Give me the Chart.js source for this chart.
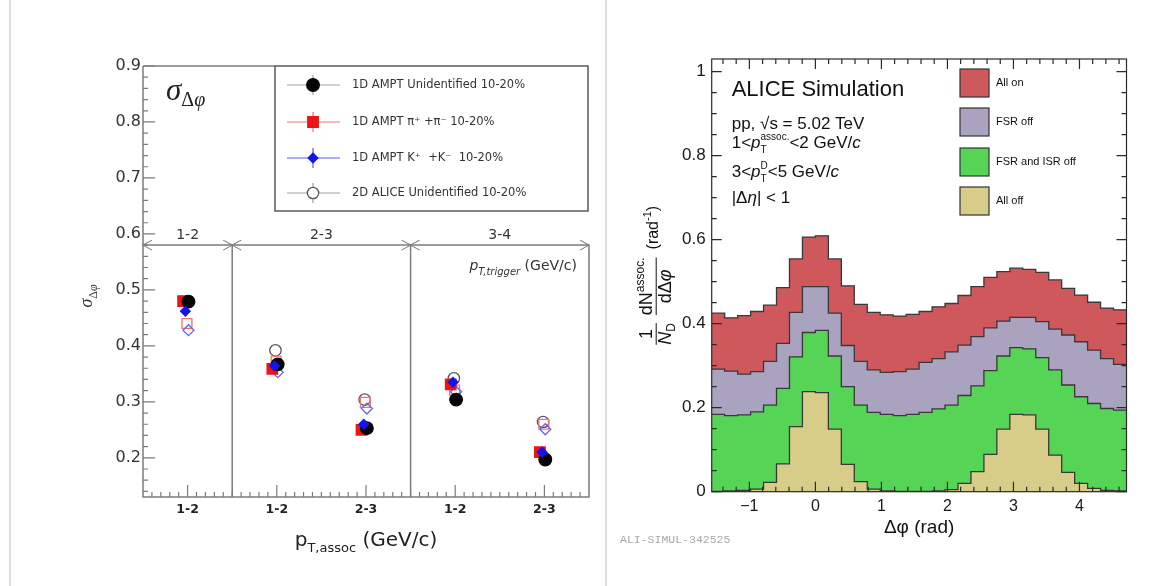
<!DOCTYPE html>
<html>
<head>
<meta charset="utf-8">
<title>Near-side width and D-hadron correlations</title>
<script src="https://cdn.jsdelivr.net/npm/chart.js@4.4.1/dist/chart.umd.min.js"></script>
<style>
  html, body { margin: 0; padding: 0; background: #fff; }
  #page { position: relative; width: 1173px; height: 586px; overflow: hidden; background: #fff; }
  .rule { position: absolute; top: 0; width: 2px; height: 586px; background: #dedede; }
  canvas { position: absolute; top: 0; }
  #sigmaChart { left: 0; }
  #phiChart { left: 607px; }
</style>
</head>
<body>
<div id="page">
  <div class="rule" style="left: 9px;"></div>
  <div class="rule" style="left: 605px;"></div>
  <canvas id="sigmaChart" width="604" height="586"></canvas>
  <canvas id="phiChart" width="566" height="586"></canvas>
</div>
<script>
// ---- left panel: near-side width per (trigger, assoc) pT bin ----
const assocBins = ['1-2', '1-2', '2-3', '1-2', '2-3'];
const triggerBins = ['1-2', '2-3', '3-4'];
const assocPerTrigger = [1, 2, 2];
const amptUnidentified = [0.479, 0.367, 0.253, 0.304, 0.197];
const amptPions = [0.480, 0.359, 0.250, 0.331, 0.210];
const amptKaons = [0.462, 0.364, 0.260, 0.335, 0.210];
const aliceUnidentified = [null, 0.392, 0.304, 0.342, 0.264];
const alicePions = [0.440, 0.373, 0.299, 0.321, 0.260];
const aliceKaons = [0.428, 0.353, 0.288, 0.318, 0.251];

// ---- right panel: D-hadron delta-phi, 32 bins from -pi/2 to 3pi/2 ----
const allOn = [0.425, 0.414, 0.419, 0.429, 0.444, 0.486, 0.554, 0.606, 0.609, 0.554, 0.490, 0.446, 0.427, 0.421, 0.418, 0.422,
  0.429, 0.440, 0.448, 0.467, 0.488, 0.510, 0.524, 0.532, 0.529, 0.522, 0.504, 0.484, 0.468, 0.451, 0.437, 0.433];
const fsrOff = [0.292, 0.287, 0.280, 0.286, 0.310, 0.353, 0.427, 0.488, 0.488, 0.425, 0.348, 0.310, 0.290, 0.284, 0.286, 0.292,
  0.308, 0.317, 0.333, 0.349, 0.369, 0.390, 0.406, 0.415, 0.415, 0.405, 0.387, 0.373, 0.357, 0.337, 0.317, 0.303];
const fsrIsrOff = [0.184, 0.181, 0.183, 0.190, 0.206, 0.246, 0.321, 0.379, 0.384, 0.323, 0.250, 0.206, 0.189, 0.184, 0.181, 0.184,
  0.189, 0.197, 0.206, 0.229, 0.252, 0.288, 0.323, 0.343, 0.340, 0.319, 0.290, 0.254, 0.226, 0.210, 0.198, 0.194];
const allOff = [0.001, 0.002, 0.003, 0.006, 0.022, 0.066, 0.155, 0.238, 0.236, 0.149, 0.065, 0.024, 0.006, 0.002, 0.001, 0.001,
  0.001, 0.002, 0.005, 0.020, 0.048, 0.089, 0.149, 0.184, 0.183, 0.149, 0.087, 0.046, 0.020, 0.008, 0.003, 0.002];

const AXIS = '#7c7c7c';
const SANS = "'DejaVu Sans', sans-serif";
const SERIF = "'Liberation Serif', 'DejaVu Serif', serif";
const HELV = "'Liberation Sans', Arial, sans-serif";
const triggerLineValue = 0.58;

// draws a run of text pieces (sub/superscripts), returns its width
function rich(ctx, x, y, parts, family, draw = true) {
  let cx = x;
  parts.forEach((p) => {
    ctx.font = (p.i ? 'italic ' : '') + p.s + 'px ' + (p.f || family);
    if (draw) ctx.fillText(p.t, cx, y + (p.dy || 0));
    if (!p.hold) cx += ctx.measureText(p.t).width;
  });
  return cx - x;
}

function marker(ctx, style, x, y, r, fill, stroke) {
  ctx.beginPath();
  if (style === 'circle') {
    ctx.arc(x, y, r, 0, 2 * Math.PI);
  } else if (style === 'rect') {
    const h = r * Math.SQRT1_2;
    ctx.rect(x - h, y - h, 2 * h, 2 * h);
  } else {
    ctx.moveTo(x - r, y); ctx.lineTo(x, y - r); ctx.lineTo(x + r, y); ctx.lineTo(x, y + r); ctx.closePath();
  }
  ctx.fillStyle = fill;
  ctx.fill();
  ctx.strokeStyle = stroke;
  ctx.lineWidth = 1.3;
  ctx.stroke();
}

const leftSeries = [
  { label: '1D AMPT Unidentified 10-20%', values: amptUnidentified, shift: 0.01, style: 'circle', radius: 6.3,
    fill: '#050505', stroke: '#050505', legendLine: '#a0a0a0', order: 2 },
  { label: '1D AMPT \u03c0\u207a +\u03c0\u207b 10-20%', values: amptPions, shift: -0.05, style: 'rect', radius: 7.4,
    fill: '#ec1414', stroke: '#ec1414', legendLine: '#f07070', order: 3 },
  { label: '1D AMPT K\u207a  +K\u207b  10-20%', values: amptKaons, shift: -0.025, style: 'rectRot', radius: 4.8,
    fill: '#1414ee', stroke: '#1414ee', legendLine: '#5a5af0', order: 1 },
  { label: '2D ALICE Unidentified 10-20%', values: aliceUnidentified, shift: -0.015, style: 'circle', radius: 5.7,
    fill: 'rgba(0,0,0,0)', stroke: '#555', legendLine: '#a0a0a0', order: 6 },
  { label: '2D ALICE \u03c0', values: alicePions, shift: -0.007, style: 'rect', radius: 7,
    fill: 'rgba(0,0,0,0)', stroke: '#f07474', order: 5, hideLegend: true },
  { label: '2D ALICE K', values: aliceKaons, shift: 0.01, style: 'rectRot', radius: 5.5,
    fill: 'rgba(0,0,0,0)', stroke: '#6464f0', order: 4, hideLegend: true },
];

function points(values, shift) {
  const pts = [];
  values.forEach((v, i) => { if (v !== null) pts.push({ x: i + shift, y: v }); });
  return pts;
}

const triggerEdges = [];
const triggerCenters = [];
let edge = -0.5;
assocPerTrigger.forEach((n, i) => {
  triggerCenters.push(edge + n / 2);
  edge += n;
  if (i < assocPerTrigger.length - 1) triggerEdges.push(edge);
});

const sigmaDecor = {
  id: 'sigmaDecor',
  beforeDatasetsDraw(chart) {
    const { ctx, chartArea: a, scales: { x, y } } = chart;
    const yArrow = y.getPixelForValue(triggerLineValue);
    ctx.save();
    ctx.strokeStyle = AXIS;
    ctx.lineWidth = 1.5;
    ctx.beginPath();
    ctx.moveTo(a.left, a.top); ctx.lineTo(a.left, a.bottom); ctx.lineTo(a.right, a.bottom); ctx.lineTo(a.right, yArrow);
    ctx.moveTo(a.left, a.top); ctx.lineTo(a.left + 132, a.top);
    ctx.moveTo(a.left, yArrow); ctx.lineTo(a.right, yArrow);
    triggerEdges.forEach((v) => {
      const px = x.getPixelForValue(v);
      ctx.moveTo(px, yArrow); ctx.lineTo(px, a.bottom);
    });
    ctx.stroke();

    ctx.lineWidth = 1.1;
    ctx.beginPath();
    const head = (px, dir) => {
      ctx.moveTo(px + dir * 9, yArrow - 5); ctx.lineTo(px, yArrow); ctx.lineTo(px + dir * 9, yArrow + 5);
    };
    head(a.left, 1);
    head(a.right, -1);
    triggerEdges.forEach((v) => { const px = x.getPixelForValue(v); head(px, 1); head(px, -1); });
    ctx.stroke();

    ctx.lineWidth = 1.2;
    ctx.beginPath();
    for (let k = 7; k <= 45; k++) {
      const py = y.getPixelForValue(k / 50);
      ctx.moveTo(a.left, py); ctx.lineTo(a.left + (k % 5 === 0 ? 12 : 5), py);
    }
    for (let k = -4; k <= 44; k++) {
      const px = x.getPixelForValue(k / 10);
      ctx.moveTo(px, a.bottom); ctx.lineTo(px, a.bottom - (k % 10 === 0 ? 12 : 5));
    }
    ctx.stroke();
    ctx.restore();
  },
  afterDraw(chart) {
    const { ctx, chartArea: a, scales: { x, y } } = chart;
    const yArrow = y.getPixelForValue(triggerLineValue);
    ctx.save();
    ctx.textAlign = 'left';
    ctx.textBaseline = 'alphabetic';
    ctx.fillStyle = '#222';

    // sigma label inside the frame
    rich(ctx, a.left + 23, a.top + 34, [
      { t: '\u03c3', s: 31, i: true }, { t: '\u0394', s: 20, dy: 6 }, { t: '\u03c6', s: 20, i: true, dy: 6 },
    ], SERIF);

    // trigger bins along the arrow line
    ctx.fillStyle = '#333';
    ctx.font = '14px ' + SANS;
    ctx.textAlign = 'center';
    ctx.textBaseline = 'middle';
    triggerBins.forEach((t, i) => ctx.fillText(t, x.getPixelForValue(triggerCenters[i]), yArrow - 10));
    ctx.textAlign = 'left';
    ctx.textBaseline = 'alphabetic';
    const trig = [{ t: 'p', s: 14, i: true }, { t: 'T,trigger', s: 10, i: true, dy: 5 }, { t: ' (GeV/c)', s: 14 }];
    const tw = rich(ctx, 0, 0, trig, SANS, false);
    rich(ctx, a.right - 12 - tw, yArrow + 25, trig, SANS);

    // legend box
    const lx = a.left + 132, ly = a.top, lw = a.right - 1 - lx, lh = 145;
    ctx.fillStyle = '#fff';
    ctx.fillRect(lx, ly, lw, lh);
    ctx.strokeStyle = '#5a5a5a';
    ctx.lineWidth = 1.5;
    ctx.strokeRect(lx, ly, lw, lh);
    const rows = [19, 56, 92, 127];
    leftSeries.filter((s) => !s.hideLegend).forEach((s, i) => {
      const ry = ly + rows[i];
      const mx = lx + 38;
      ctx.strokeStyle = s.legendLine;
      ctx.lineWidth = 1.2;
      ctx.beginPath();
      ctx.moveTo(lx + 12, ry); ctx.lineTo(lx + 65, ry);
      ctx.moveTo(mx, ry - 10); ctx.lineTo(mx, ry + 10);
      ctx.stroke();
      marker(ctx, s.style, mx, ry, s.radius, s.fill === 'rgba(0,0,0,0)' ? '#fff' : s.fill, s.stroke);
      ctx.fillStyle = '#333';
      ctx.font = '11.5px ' + SANS;
      ctx.textBaseline = 'middle';
      ctx.fillText(s.label, lx + 77, ry);
    });
    ctx.textBaseline = 'alphabetic';

    // axis titles
    ctx.fillStyle = '#222';
    const xt = [{ t: 'p', s: 20 }, { t: 'T,assoc', s: 13, dy: 6 }, { t: ' (GeV/c)', s: 20 }];
    const xw = rich(ctx, 0, 0, xt, SANS, false);
    rich(ctx, (a.left + a.right) / 2 - xw / 2, 546, xt, SANS);

    const yt = [{ t: '\u03c3', s: 18, i: true }, { t: '\u0394', s: 12, dy: 5 }, { t: '\u03c6', s: 12, i: true, dy: 5 }];
    const yw = rich(ctx, 0, 0, yt, SERIF, false);
    ctx.translate(92, 296);
    ctx.rotate(-Math.PI / 2);
    ctx.fillStyle = '#333';
    rich(ctx, -yw / 2, 0, yt, SERIF);
    ctx.restore();
  },
};

new Chart(document.getElementById('sigmaChart'), {
  type: 'scatter',
  data: {
    datasets: leftSeries.map((s) => ({
      label: s.label,
      data: points(s.values, s.shift),
      pointStyle: s.style,
      pointRadius: s.radius,
      pointBackgroundColor: s.fill,
      pointBorderColor: s.stroke,
      pointBorderWidth: 1.3,
      order: s.order,
    })),
  },
  options: {
    responsive: false,
    animation: false,
    events: [],
    layout: { padding: { left: 0, right: 15, top: 66, bottom: 0 } },
    plugins: { legend: { display: false }, tooltip: { enabled: false } },
    scales: {
      x: {
        type: 'linear', min: -0.5, max: 4.5,
        grid: { display: false, drawTicks: false }, border: { display: false },
        afterBuildTicks: (s) => { s.ticks = assocBins.map((_, i) => ({ value: i })); },
        ticks: {
          padding: 5, autoSkip: false, maxRotation: 0,
          color: '#222', font: { family: SANS, size: 12.5, weight: 'bold' },
          callback: (v) => assocBins[Math.round(v)],
        },
        afterFit: (s) => { s.height = 89; },
      },
      y: {
        min: 0.13, max: 0.9,
        grid: { display: false, drawTicks: false }, border: { display: false },
        ticks: {
          stepSize: 0.1, includeBounds: false, padding: 2,
          color: '#333', font: { family: SANS, size: 16 },
          callback: (v) => String(Math.round(v * 10) / 10),
        },
        afterFit: (s) => { s.width = 143; },
      },
    },
  },
  plugins: [sigmaDecor],
});

// ---- right panel ----
const phiMin = -Math.PI / 2;
const phiMax = 3 * Math.PI / 2;

function steps(values) {
  const w = (phiMax - phiMin) / values.length;
  const pts = values.map((v, i) => ({ x: phiMin + i * w, y: v }));
  pts.push({ x: phiMax, y: values[values.length - 1] });
  return pts;
}

const histSeries = [
  { label: 'All on', values: allOn, color: '#cf585c', order: 4 },
  { label: 'FSR off', values: fsrOff, color: '#a9a3c0', order: 3 },
  { label: 'FSR and ISR off', values: fsrIsrOff, color: '#56d455', order: 2 },
  { label: 'All off', values: allOff, color: '#d8cd88', order: 1 },
];

const phiDecor = {
  id: 'phiDecor',
  afterDatasetsDraw(chart) {
    const { ctx, chartArea: a, scales: { x, y } } = chart;
    ctx.save();
    ctx.strokeStyle = '#2a2a2a';
    ctx.lineWidth = 1.2;
    ctx.strokeRect(a.left, a.top, a.right - a.left, a.bottom - a.top);
    ctx.beginPath();
    for (let k = 0; k <= 20; k++) {
      const py = y.getPixelForValue(k / 20);
      const len = k % 4 === 0 ? 10 : 5;
      ctx.moveTo(a.left, py); ctx.lineTo(a.left + len, py);
      ctx.moveTo(a.right, py); ctx.lineTo(a.right - len, py);
    }
    for (let k = -7; k <= 23; k++) {
      const px = x.getPixelForValue(k / 5);
      const len = k % 5 === 0 ? 10 : 5;
      ctx.moveTo(px, a.bottom); ctx.lineTo(px, a.bottom - len);
      ctx.moveTo(px, a.top); ctx.lineTo(px, a.top + len);
    }
    ctx.stroke();
    ctx.restore();
  },
  afterDraw(chart) {
    const { ctx, chartArea: a } = chart;
    ctx.save();
    ctx.fillStyle = '#111';
    ctx.textAlign = 'left';
    ctx.textBaseline = 'alphabetic';
    const tx = a.left + 20;
    ctx.font = '22px ' + HELV;
    ctx.fillText('ALICE Simulation', tx, a.top + 37);
    rich(ctx, tx, a.top + 70, [{ t: 'pp, \u221as = 5.02 TeV', s: 17 }], HELV);
    rich(ctx, tx, a.top + 89, [
      { t: '1<', s: 17 }, { t: 'p', s: 17, i: true }, { t: 'T', s: 10, dy: 5, hold: true }, { t: 'assoc.', s: 10, dy: -8 },
      { t: '<2 GeV/', s: 17 }, { t: 'c', s: 17, i: true },
    ], HELV);
    rich(ctx, tx, a.top + 118, [
      { t: '3<', s: 17 }, { t: 'p', s: 17, i: true }, { t: 'T', s: 10, dy: 5, hold: true }, { t: 'D', s: 10, dy: -8 },
      { t: '<5 GeV/', s: 17 }, { t: 'c', s: 17, i: true },
    ], HELV);
    rich(ctx, tx, a.top + 144, [{ t: '|\u0394', s: 17 }, { t: '\u03b7', s: 17, i: true }, { t: '| < 1', s: 17 }], HELV);

    // legend
    const bx = a.left + 248.3;
    const tops = [10, 49, 89, 128];
    histSeries.forEach((s, i) => {
      const by = a.top + tops[i];
      ctx.fillStyle = s.color;
      ctx.fillRect(bx, by, 29, 28);
      ctx.strokeStyle = '#333';
      ctx.lineWidth = 1.2;
      ctx.strokeRect(bx, by, 29, 28);
      ctx.fillStyle = '#111';
      ctx.font = '11px ' + HELV;
      ctx.textBaseline = 'middle';
      ctx.fillText(s.label, bx + 36, by + 14);
    });
    ctx.textBaseline = 'alphabetic';

    // x title
    ctx.font = '19px ' + HELV;
    ctx.textAlign = 'center';
    ctx.fillText('\u0394\u03c6 (rad)', (a.left + a.right) / 2, 533);
    ctx.textAlign = 'left';

    // preliminary tag
    ctx.fillStyle = '#a8a8a8';
    ctx.font = "11.5px 'Liberation Mono', monospace";
    ctx.fillText('ALI-SIMUL-342525', 13, 543);

    // y title, rotated
    ctx.fillStyle = '#111';
    const numA = [{ t: '1', s: 18 }];
    const denA = [{ t: 'N', s: 18, i: true }, { t: 'D', s: 12, dy: 4 }];
    const numB = [{ t: 'dN', s: 18 }, { t: 'assoc.', s: 12, dy: -8 }];
    const denB = [{ t: 'd\u0394', s: 18 }, { t: '\u03c6', s: 18, i: true }];
    const unit = [{ t: '(rad', s: 16 }, { t: '-1', s: 11, dy: -7 }, { t: ')', s: 16 }];
    const w = (p) => rich(ctx, 0, 0, p, HELV, false);
    const wA = Math.max(w(numA), w(denA));
    const wB = Math.max(w(numB), w(denB));
    const wU = w(unit);
    const gap = 8;
    const total = wA + gap + wB + gap + wU;
    ctx.translate(a.left - 57, (a.top + a.bottom) / 2);
    ctx.rotate(-Math.PI / 2);
    let u = -total / 2;
    const frac = (num, den, width) => {
      rich(ctx, u + (width - w(num)) / 2, -3, num, HELV);
      rich(ctx, u + (width - w(den)) / 2, 16, den, HELV);
      ctx.strokeStyle = '#111';
      ctx.lineWidth = 1;
      ctx.beginPath();
      ctx.moveTo(u, 1.5); ctx.lineTo(u + width, 1.5);
      ctx.stroke();
      u += width + gap;
    };
    frac(numA, denA, wA);
    frac(numB, denB, wB);
    rich(ctx, u, 3, unit, HELV);
    ctx.restore();
  },
};

new Chart(document.getElementById('phiChart'), {
  type: 'line',
  data: {
    datasets: histSeries.map((s) => ({
      label: s.label,
      data: steps(s.values),
      stepped: 'before',
      fill: 'origin',
      backgroundColor: s.color,
      borderColor: '#383838',
      borderWidth: 1.3,
      pointRadius: 0,
      order: s.order,
    })),
  },
  options: {
    responsive: false,
    animation: false,
    events: [],
    layout: { padding: { left: 0, right: 46.5, top: 59, bottom: 0 } },
    plugins: { legend: { display: false }, tooltip: { enabled: false } },
    scales: {
      x: {
        type: 'linear', min: phiMin, max: phiMax,
        grid: { display: false, drawTicks: false }, border: { display: false },
        ticks: {
          stepSize: 1, includeBounds: false, padding: 5, autoSkip: false, maxRotation: 0,
          color: '#1a1a1a', font: { family: HELV, size: 16 },
          callback: (v) => (v < 0 ? '\u2212' + Math.abs(v) : String(v)),
        },
        afterFit: (s) => { s.height = 94.3; },
      },
      y: {
        min: 0, max: 1.03,
        grid: { display: false, drawTicks: false }, border: { display: false },
        ticks: {
          stepSize: 0.2, includeBounds: false, padding: 6,
          color: '#1a1a1a', font: { family: HELV, size: 17 },
          callback: (v) => String(Math.round(v * 10) / 10),
        },
        afterFit: (s) => { s.width = 104.7; },
      },
    },
  },
  plugins: [phiDecor],
});
</script>
</body>
</html>
